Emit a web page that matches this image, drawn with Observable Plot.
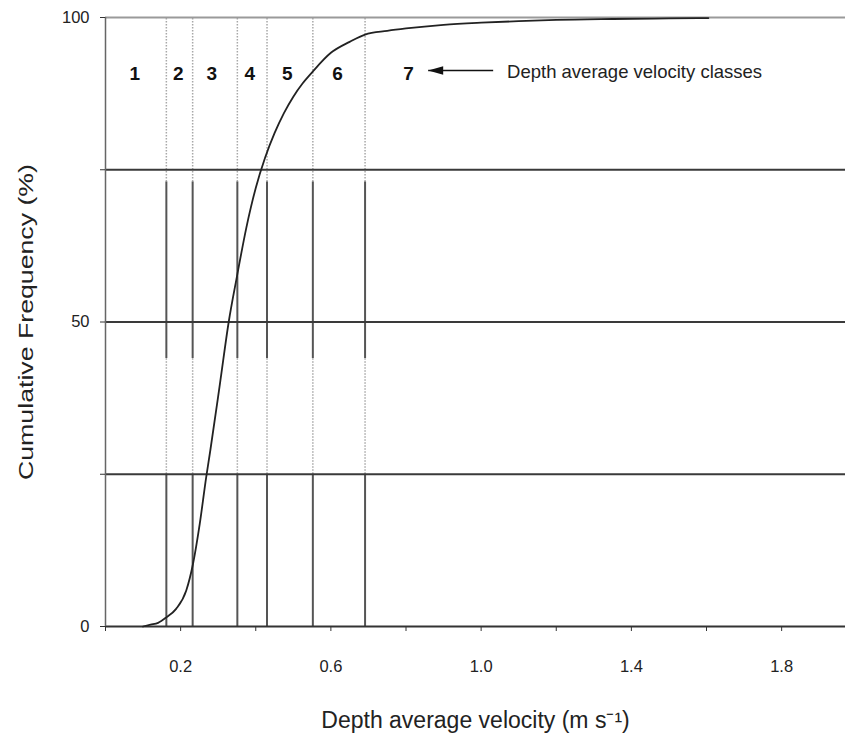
<!DOCTYPE html>
<html><head><meta charset="utf-8">
<script src="https://cdn.jsdelivr.net/npm/d3@7"></script>
<script src="https://cdn.jsdelivr.net/npm/@observablehq/plot@0.6"></script>
<style>body{margin:0;background:#fff;}</style>
</head><body><div id="chart"></div>
<script>
// Cumulative frequency curve (velocity in m/s, cumulative %)
const velocity = [0.10, 0.12, 0.14, 0.162, 0.188, 0.215, 0.233, 0.251, 0.268, 0.279, 0.305, 0.328, 0.350, 0.375, 0.400, 0.425, 0.450, 0.475, 0.500, 0.525, 0.550, 0.600, 0.650, 0.691, 0.750, 0.800, 0.900, 1.000, 1.100, 1.200, 1.350, 1.500, 1.605];
const cumFreq  = [0.0, 0.3, 0.6, 1.5, 2.9, 5.9, 10.3, 16.9, 24.5, 28.9, 40.0, 50.0, 57.5, 65.5, 72.0, 77.0, 81.0, 84.3, 87.0, 89.2, 91.0, 94.2, 96.0, 97.2, 97.8, 98.2, 98.8, 99.15, 99.4, 99.6, 99.75, 99.85, 99.9];

// Velocity class boundaries and labels
const classBreaks = [0.162, 0.232, 0.351, 0.430, 0.552, 0.691];
const classLabels = ["1", "2", "3", "4", "5", "6", "7"];
const classLabelX = [0.078, 0.194, 0.283, 0.384, 0.484, 0.618, 0.807];
const classLabelY = 90.7;

// Portions of the class boundaries drawn solid / dotted (cumulative %)
const solidSpans = [[0, 25], [44, 73]];
const dottedSpans = [[25, 44], [73, 100]];

// Horizontal grid lines
const gridLines = [25, 50, 75];
const topLine = [100];

// Axes
const xTicks = [0, 0.2, 0.4, 0.6, 0.8, 1.0, 1.2, 1.4, 1.6, 1.8];
const xTickLabels = ["", "0.2", "", "0.6", "", "1.0", "", "1.4", "", "1.8"];
const yTicks = [0, 25, 50, 75, 100];
const yTickLabels = ["0", "", "50", "", "100"];
const xTitle = "Depth average velocity (m s\u207B\u00B9)";
const yTitle = "Cumulative Frequency (%)";

// Annotation
const annotationText = ["Depth average velocity classes"];
const annotationX = 1.069;
const annotationY = 91.0;
const arrowTail = 1.032;
const arrowTip = 0.859;
const arrowY = 91.3;

const curve = velocity.map((v, i) => ({v, f: cumFreq[i]}));
const segments = [];
for (const b of classBreaks) {
  for (const [a, c] of solidSpans) segments.push({x: b, y1: a, y2: c, kind: "solid"});
  for (const [a, c] of dottedSpans) segments.push({x: b, y1: a, y2: c, kind: "dotted"});
}

const leftArrowHead = {
  draw(ctx) {
    ctx.moveTo(0, 0);
    ctx.lineTo(15, -4.2);
    ctx.lineTo(15, 4.2);
    ctx.closePath();
  }
};

const FONT = "'Liberation Sans', Arial, Helvetica, sans-serif";

const chart = Plot.plot({
  width: 845,
  height: 740,
  marginLeft: 105,
  marginRight: 0,
  marginTop: 17,
  marginBottom: 114,
  style: {fontFamily: FONT, fontSize: "16.5px", color: "#222", background: "#fff", overflow: "visible"},
  x: {domain: [0, 1.97], axis: null},
  y: {domain: [0, 100], axis: null},
  marks: [
    // class boundaries
    Plot.ruleX(segments.filter(d => d.kind === "dotted"), {x: "x", y1: "y1", y2: "y2", stroke: "#a8a8a8", strokeWidth: 1.5, strokeDasharray: "1.5,1.5"}),
    Plot.ruleX(segments.filter(d => d.kind === "solid"), {x: "x", y1: "y1", y2: "y2", stroke: "#555", strokeWidth: 2}),
    // horizontal grid
    Plot.ruleY(gridLines, {stroke: "#3a3a3a", strokeWidth: 2}),
    Plot.ruleY(topLine, {stroke: "#9a9a9a", strokeWidth: 2}),
    // axis lines
    Plot.ruleY([0], {stroke: "#333", strokeWidth: 2}),
    Plot.ruleX([0], {stroke: "#666", strokeWidth: 1.5}),
    // axes
    Plot.axisX({ticks: xTicks, tickFormat: (d, i) => xTickLabels[i], tickSize: 5, tickPadding: 29, stroke: "#333", fontSize: 16.5, label: null}),
    Plot.axisY({ticks: yTicks, tickFormat: (d, i) => yTickLabels[i], tickSize: 5, tickPadding: 11, stroke: "#333", fontSize: 16.5, label: null}),
    // curve
    Plot.line(curve, {x: "v", y: "f", stroke: "#222", strokeWidth: 1.8, curve: "monotone-x"}),
    // class labels
    Plot.text(classLabels, {x: (d, i) => classLabelX[i], y: classLabelY, text: d => d, fontWeight: "bold", fontSize: 19, fill: "#111"}),
    // arrow + annotation
    Plot.link([0], {x1: arrowTip, x2: arrowTail, y1: arrowY, y2: arrowY, stroke: "#111", strokeWidth: 1.5}),
    Plot.dot([0], {x: arrowTip, y: arrowY, symbol: leftArrowHead, fill: "#111", stroke: "none"}),
    Plot.text(annotationText, {x: annotationX, y: annotationY, text: d => d, textAnchor: "start", fontSize: 18.5, fill: "#222"}),
    // axis titles
    Plot.text([yTitle], {frameAnchor: "left", textAnchor: "middle", dx: -79, rotate: -90, text: d => d, fontSize: 20, fill: "#222"}),
    Plot.text([xTitle], {frameAnchor: "bottom", textAnchor: "middle", dy: 101, text: d => d, fontSize: 23, fill: "#222"})
  ]
});
// stretch the vertical axis title to the length it has in the original
d3.select(chart).selectAll("text")
  .filter(function() { return this.textContent === yTitle; })
  .attr("textLength", 316)
  .attr("lengthAdjust", "spacingAndGlyphs");
document.getElementById("chart").appendChild(chart);
</script>
</body></html>
